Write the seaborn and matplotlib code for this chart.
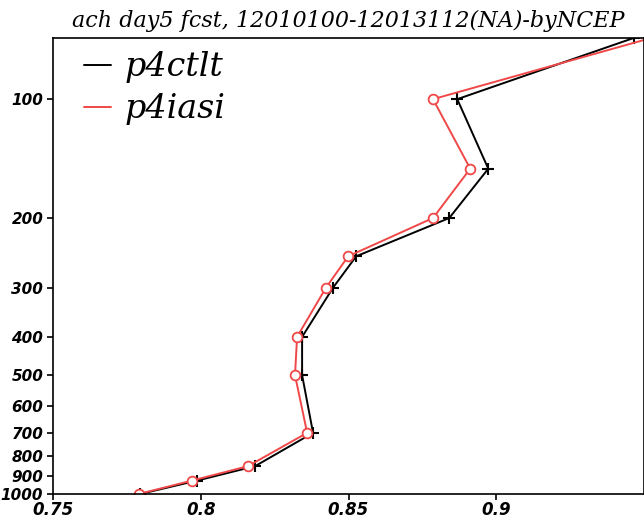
import matplotlib
matplotlib.use("Agg")
import matplotlib.pyplot as plt
import seaborn as sns
import pandas as pd
from matplotlib.ticker import FixedLocator, NullLocator, FixedFormatter

levels = [70, 100, 150, 200, 250, 300, 400, 500, 700, 850, 925, 1000]
p4ctlt = [0.9465, 0.8868, 0.8973, 0.8841, 0.8526, 0.8448, 0.8343, 0.8343, 0.8380, 0.8184, 0.7987, 0.7795]
p4iasi = [0.9524, 0.8786, 0.8912, 0.8786, 0.8499, 0.8424, 0.8326, 0.8319, 0.8360, 0.8160, 0.7970, 0.7790]
yticks = [100, 200, 300, 400, 500, 600, 700, 800, 900, 1000]
xticks = [0.75, 0.8, 0.85, 0.9]
xticklabels = ["0.75", "0.8", "0.85", "0.9"]
title = "ach day5 fcst, 12010100-12013112(NA)-byNCEP"

sns.set_style("ticks")
plt.rcParams['font.family'] = ['DejaVu Sans']
plt.rcParams['text.color'] = 'black'
plt.rcParams['xtick.color'] = 'black'
plt.rcParams['ytick.color'] = 'black'
plt.rcParams['axes.edgecolor'] = 'black'

fig = plt.figure(figsize=(6.44, 5.18), dpi=100)
ax = fig.add_axes([53/644, 1 - 494/518, 591/644, (494-38)/518])

df1 = pd.DataFrame({"x": p4ctlt, "y": levels})
df2 = pd.DataFrame({"x": p4iasi, "y": levels})
sns.lineplot(data=df1, x="x", y="y", sort=False, estimator=None, ax=ax,
             color="black", lw=1.4, marker="+", markersize=9, markeredgewidth=1.5,
             markeredgecolor="black", label="p4ctlt")
sns.lineplot(data=df2, x="x", y="y", sort=False, estimator=None, ax=ax,
             color="#f04848", lw=1.4, marker="o", markersize=7, markerfacecolor="white",
             markeredgewidth=1.3, markeredgecolor="#f04848", label="p4iasi")

ax.set_yscale("log")
ax.set_ylim(1000, 70)
ax.set_xlim(0.75, 0.95)
ax.yaxis.set_major_locator(FixedLocator(yticks))
ax.yaxis.set_major_formatter(FixedFormatter([str(v) for v in yticks]))
ax.yaxis.set_minor_locator(NullLocator())
ax.set_xticks(xticks)
ax.set_xticklabels(xticklabels)
ax.set_xlabel("")
ax.set_ylabel("")
ax.tick_params(axis="y", labelsize=11, length=4, width=1.2, direction="out", pad=3)
ax.tick_params(axis="x", labelsize=12, length=4, width=1.2, direction="out", pad=1)
for lab in ax.get_yticklabels():
    lab.set_fontstyle("italic"); lab.set_fontweight("bold")
for lab in ax.get_xticklabels():
    lab.set_fontstyle("italic"); lab.set_fontweight("bold")
for s in ax.spines.values():
    s.set_linewidth(1.2)

ax.set_title(title, fontsize=16, fontstyle="italic", family="DejaVu Serif", pad=8)

leg = ax.legend(loc="upper left", frameon=False, handlelength=0.8, handletextpad=0.4,
                prop={"family": "DejaVu Serif", "style": "italic", "size": 24},
                borderaxespad=0.0, labelspacing=0.3, bbox_to_anchor=(0.03, 1.0))
for h in leg.legend_handles:
    h.set_marker("")
for t in leg.get_texts():
    t.set_color("black")

fig.savefig("out.png", dpi=100)
